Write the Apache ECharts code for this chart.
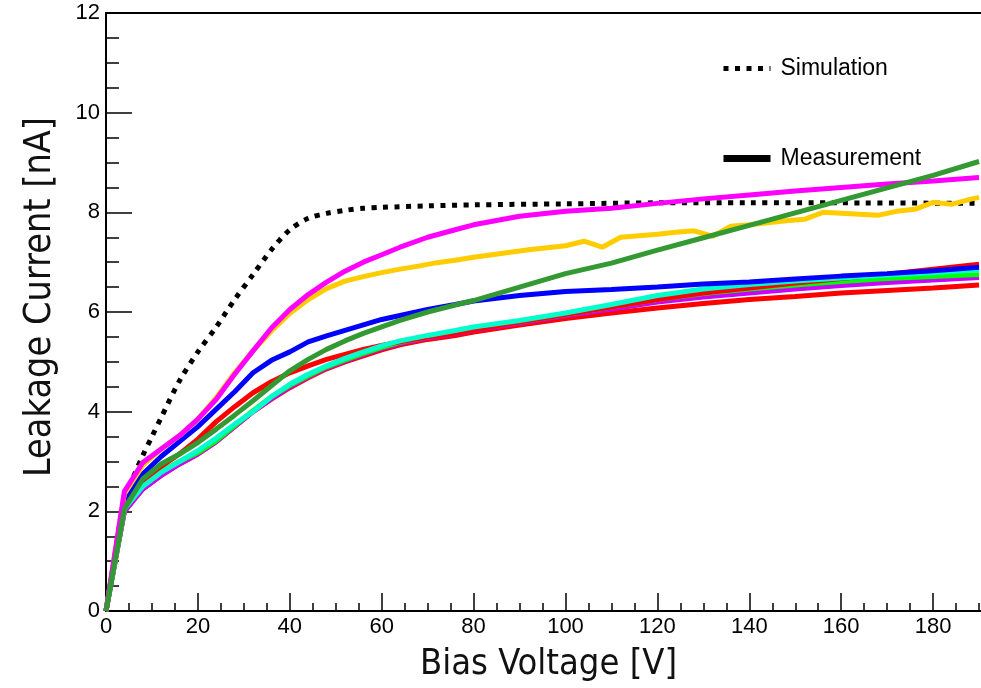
<!DOCTYPE html>
<html>
<head>
<meta charset="utf-8">
<script src="https://cdn.jsdelivr.net/npm/echarts@6/dist/echarts.min.js"></script>
<style>
  html, body { margin: 0; padding: 0; background: #fff; overflow: hidden; }
  /* the plot runs on past the right edge of the window, as in the original */
  #main { width: 1028px; height: 688px; }
</style>
</head>
<body>
<div id="main"></div>
<script>
// bias voltage points of the measurements [V]
const voltM = [0, 4, 8, 12, 16, 20, 24, 28, 32, 36, 40, 44, 48, 52, 56, 60, 64, 70, 76, 80,
    90, 100, 110, 120, 130, 140, 150, 160, 170, 180, 190]

// leakage current of each sensor [nA]
const magenta = [0, 2.4, 2.98, 3.25, 3.52, 3.85, 4.25, 4.75, 5.22, 5.68, 6.05, 6.35, 6.6, 6.82, 7.0, 7.15, 7.3, 7.5, 7.65, 7.75,
    7.92, 8.02, 8.08, 8.18, 8.27, 8.35, 8.43, 8.5, 8.57, 8.63, 8.7]
const blue = [0, 2.25, 2.75, 3.1, 3.4, 3.7, 4.05, 4.4, 4.78, 5.03, 5.2, 5.4, 5.52, 5.63, 5.74, 5.85, 5.93, 6.05, 6.15, 6.22,
    6.33, 6.41, 6.45, 6.5, 6.56, 6.6, 6.66, 6.72, 6.77, 6.83, 6.9]
const green = [0, 2.05, 2.65, 2.95, 3.15, 3.38, 3.65, 3.93, 4.22, 4.52, 4.82, 5.05, 5.25, 5.42, 5.57, 5.7, 5.83, 6.0, 6.14, 6.23,
    6.5, 6.77, 6.98, 7.24, 7.49, 7.74, 7.99, 8.24, 8.49, 8.74, 9.02]
const cyan = [0, 2.05, 2.5, 2.78, 3.0, 3.22, 3.47, 3.75, 4.0, 4.3, 4.55, 4.75, 4.92, 5.07, 5.2, 5.32, 5.42, 5.53, 5.63, 5.7,
    5.83, 5.98, 6.15, 6.33, 6.46, 6.55, 6.62, 6.68, 6.74, 6.79, 6.85]
const redTop = [0, 2.1, 2.6, 2.9, 3.15, 3.45, 3.8, 4.1, 4.38, 4.6, 4.78, 4.92, 5.05, 5.15, 5.25, 5.33, 5.4, 5.5, 5.58, 5.65,
    5.8, 5.95, 6.1, 6.25, 6.38, 6.48, 6.58, 6.67, 6.76, 6.86, 6.96]
const redBottom = [0, 2.0, 2.45, 2.72, 2.95, 3.15, 3.4, 3.7, 4.0, 4.25, 4.48, 4.68, 4.86, 5.0, 5.12, 5.24, 5.34, 5.45, 5.53, 5.6,
    5.74, 5.87, 5.98, 6.08, 6.17, 6.25, 6.31, 6.38, 6.43, 6.48, 6.54]
const purple = [0, 2.0, 2.45, 2.72, 2.95, 3.15, 3.4, 3.7, 4.0, 4.26, 4.5, 4.7, 4.88, 5.02, 5.15, 5.27, 5.37, 5.48, 5.57, 5.64,
    5.78, 5.93, 6.06, 6.2, 6.3, 6.38, 6.46, 6.53, 6.59, 6.64, 6.69]
const lime = [0, 2.05, 2.55, 2.8, 3.0, 3.18, 3.42, 3.72, 4.02, 4.3, 4.53, 4.72, 4.9, 5.04, 5.17, 5.29, 5.39, 5.5, 5.6, 5.67,
    5.8, 5.95, 6.1, 6.25, 6.37, 6.46, 6.54, 6.61, 6.67, 6.71, 6.75]

// the yellow sensor is noisier, read at finer steps
const voltY = [0, 4, 8, 12, 16, 20, 24, 28, 32, 36, 40, 44, 48, 52, 56, 60, 64, 68, 72, 76, 80, 84, 88, 92, 96,
    100, 104, 108, 112, 116, 120, 124, 128, 132, 136, 140, 144, 148, 152, 156, 160, 164, 168, 172, 176, 180, 184, 188, 190]
const yellow = [0, 2.35, 2.92, 3.25, 3.52, 3.85, 4.28, 4.78, 5.22, 5.62, 5.97, 6.25, 6.47, 6.62, 6.71, 6.79, 6.86, 6.92, 6.99, 7.04,
    7.1, 7.15, 7.2, 7.25, 7.29, 7.33, 7.42, 7.3, 7.5, 7.53, 7.56, 7.6, 7.63, 7.52, 7.72, 7.75, 7.79, 7.83, 7.86, 8.0,
    7.98, 7.96, 7.94, 8.02, 8.06, 8.2, 8.16, 8.26, 8.3]

// simulation
const voltS = [0, 2, 4, 6, 8, 10, 12, 16, 20, 24, 28, 32, 36, 40, 44, 48, 52, 56, 60, 70, 80, 100, 120, 140, 160, 190]
const simI = [0, 1.15, 2.25, 2.7, 3.12, 3.5, 3.88, 4.62, 5.2, 5.7, 6.25, 6.75, 7.25, 7.65, 7.88, 7.98, 8.04, 8.08, 8.1, 8.13,
    8.15, 8.17, 8.19, 8.19, 8.19, 8.18]

const xTicks = [0, 20, 40, 60, 80, 100, 120, 140, 160, 180]
const yTicks = [0, 2, 4, 6, 8, 10, 12]

const zip = (xs, ys) => xs.map((x, i) => [x, ys[i]])

const labelFont = "'Liberation Sans', Arial, sans-serif"
const titleFont = "'DejaVu Sans Condensed', 'DejaVu Sans', sans-serif"

const measLine = (name, color, ys, xs) => ({
    name: name,
    type: 'line',
    data: zip(xs || voltM, ys),
    showSymbol: false,
    symbol: 'none',
    color: color,
    lineStyle: { width: 5, color: color },
    z: 3,
})

function renderCharts() {
    var chartDom = document.getElementById('main')
    var myChart = echarts.init(chartDom)
    var option = {
        animation: false,
        backgroundColor: '#fff',
        grid: { left: 106, right: 0, top: 13, bottom: 75, containLabel: false },
        legend: {
            orient: 'vertical',
            left: 720,
            top: 57,
            padding: 0,
            itemWidth: 47,
            itemHeight: 14,
            itemGap: 67,
            // hide the marker dot, keep only the line
            itemStyle: { opacity: 0, borderWidth: 0 },
            textStyle: { fontSize: 23, color: '#000', fontFamily: labelFont, padding: [0, 0, 0, 5] },
            data: [
                { name: 'Simulation', lineStyle: { width: 5 } },
                { name: 'Measurement', lineStyle: { width: 7 } },
            ],
        },
        xAxis: [
            {
                type: 'value',
                min: 0,
                max: 200,
                interval: 20,
                name: 'Bias Voltage [V]',
                nameLocation: 'middle',
                nameGap: 36,
                // right padding pulls the title back to the middle of the visible part
                nameTextStyle: { fontSize: 36, color: '#111', fontFamily: titleFont, padding: [0, 34, 0, 0] },
                axisLine: { show: true, lineStyle: { color: '#000', width: 2 } },
                axisTick: { show: true, inside: true, length: 18, lineStyle: { color: '#000', width: 1.5 } },
                minorTick: { show: true, splitNumber: 4, length: 8, lineStyle: { color: '#000', width: 1.5 } },
                splitLine: { show: false },
                axisLabel: {
                    fontSize: 22,
                    color: '#000',
                    fontFamily: labelFont,
                    margin: 5,
                    formatter: (v) => (xTicks.indexOf(v) >= 0 ? String(v) : ''),
                },
            },
            {
                // top frame line
                type: 'value',
                position: 'top',
                min: 0,
                max: 200,
                axisLine: { show: true, lineStyle: { color: '#000', width: 2 } },
                axisTick: { show: false },
                axisLabel: { show: false },
                splitLine: { show: false },
            },
        ],
        yAxis: {
            type: 'value',
            min: 0,
            max: 12,
            interval: 2,
            name: 'Leakage Current [nA]',
            nameLocation: 'middle',
            nameGap: 47,
            nameTextStyle: { fontSize: 37.5, color: '#111', fontFamily: titleFont, padding: [0, 0, 0, 30] },
            axisLine: { show: true, lineStyle: { color: '#000', width: 2 } },
            axisTick: { show: true, inside: true, length: 26, lineStyle: { color: '#000', width: 1.5 } },
            minorTick: { show: true, splitNumber: 4, length: 13, lineStyle: { color: '#000', width: 1.5 } },
            splitLine: { show: false },
            axisLabel: {
                fontSize: 22,
                color: '#000',
                fontFamily: labelFont,
                margin: 6,
                formatter: (v) => (yTicks.indexOf(v) >= 0 ? String(v) : ''),
            },
        },
        series: [
            {
                name: 'Simulation',
                type: 'line',
                data: zip(voltS, simI),
                smooth: 0.3,
                showSymbol: false,
                symbol: 'none',
                color: '#000',
                lineStyle: { width: 5, color: '#000', type: [5, 6.5], cap: 'butt' },
                z: 2,
            },
            {
                // legend entry only
                name: 'Measurement',
                type: 'line',
                data: [],
                symbol: 'none',
                color: '#000',
                lineStyle: { width: 7, color: '#000' },
            },
            measLine('m1', '#ff0000', redBottom),
            measLine('m2', '#cc00ff', purple),
            measLine('m3', '#00ff00', lime),
            measLine('m4', '#ff0000', redTop),
            measLine('m5', '#00ffcc', cyan),
            measLine('m6', '#0000ff', blue),
            measLine('m7', '#ffcc00', yellow, voltY),
            measLine('m8', '#ff00ff', magenta),
            measLine('m9', '#339933', green),
        ],
    }
    option && myChart.setOption(option)
}

renderCharts()
</script>
</body>
</html>
